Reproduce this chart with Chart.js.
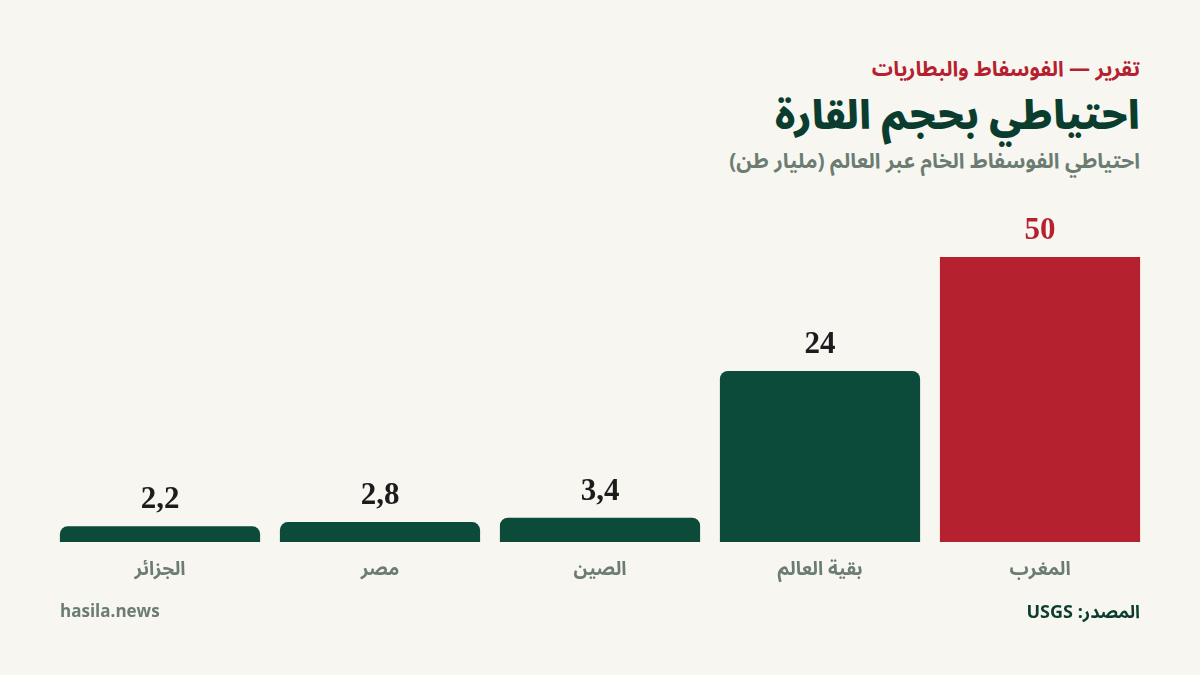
<!DOCTYPE html>
<html lang="ar" dir="rtl">
<head>
<meta charset="utf-8">
<script src="https://cdn.jsdelivr.net/npm/chart.js@4.4.1/dist/chart.umd.min.js"></script>
<style>
  html, body { margin: 0; padding: 0; }
  body {
    width: 1200px; height: 675px; overflow: hidden; position: relative;
    background: #f8f6f1;
    font-family: "Noto Sans Arabic", "DejaVu Sans", sans-serif;
  }
  .kicker, .title, .subtitle, .source, .brand { position: absolute; margin: 0; white-space: nowrap; }
  .kicker { right: 60px; top: 47px; font-size: 21px; font-weight: 700; color: #b5212e; }
  .title { right: 60px; top: 96px; font-size: 39px; font-weight: 900; color: #0b3d2e; line-height: 1.1; }
  .subtitle { right: 60px; top: 139px; font-size: 21px; font-weight: 700; color: #6b7d72; }
  .brand { left: 60px; top: 599px; font-size: 17px; font-weight: 700; color: #6b7d72; direction: ltr; font-family: "Open Sans", "DejaVu Sans", sans-serif; }
  .source { right: 60px; top: 593px; font-size: 18px; font-weight: 700; color: #0b3d2e; }
  .chart-box { position: absolute; left: 0; top: 200px; width: 1200px; height: 400px; }
</style>
</head>
<body>
<p class="kicker">تقرير — الفوسفاط والبطاريات</p>
<h1 class="title">احتياطي بحجم القارة</h1>
<p class="subtitle">احتياطي الفوسفاط الخام عبر العالم (مليار طن)</p>
<div class="chart-box"><canvas id="reserves"></canvas></div>
<p class="brand">hasila.news</p>
<p class="source">المصدر: USGS</p>

<script>
// data (billion tonnes), left to right as drawn
const countries = ['الجزائر', 'مصر', 'الصين', 'بقية العالم', 'المغرب'];
const reserves = [2.2, 2.8, 3.4, 24, 50];
const highlight = 'المغرب';

const GREEN = '#0c4a3a';
const RED = '#b5212e';

// value labels above each bar, comma decimals
const valueLabels = {
    id: 'valueLabels',
    afterDatasetsDraw(chart) {
        const ctx = chart.ctx;
        const meta = chart.getDatasetMeta(0);
        ctx.save();
        ctx.font = 'bold 31px "Liberation Serif", "DejaVu Serif", serif';
        ctx.textAlign = 'center';
        ctx.textBaseline = 'alphabetic';
        meta.data.forEach((bar, i) => {
            const top = Math.max(bar.y, chart.chartArea.top);
            ctx.fillStyle = countries[i] === highlight ? RED : '#1c1c1c';
            ctx.fillText(String(reserves[i]).replace('.', ','), bar.x, top - 18);
        });
        ctx.restore();
    }
};

new Chart(document.getElementById('reserves'), {
    type: 'bar',
    data: {
        labels: countries,
        datasets: [{
            data: reserves,
            backgroundColor: countries.map(c => c === highlight ? RED : GREEN),
            borderRadius: { topLeft: 8, topRight: 8 },
            borderSkipped: 'bottom',
            categoryPercentage: 1,
            barPercentage: 0.91
        }]
    },
    options: {
        responsive: true,
        maintainAspectRatio: false,
        animation: false,
        layout: { padding: { top: 57, left: 50, right: 50, bottom: 0 } },
        plugins: {
            legend: { display: false },
            tooltip: { enabled: false }
        },
        scales: {
            x: {
                grid: { display: false },
                border: { display: false },
                ticks: {
                    color: '#6b7d72',
                    padding: 11,
                    font: { size: 19, weight: 'bold', family: '"Noto Sans Arabic", "DejaVu Sans", sans-serif' }
                },
                afterFit(scale) { scale.height = 58; }
            },
            y: {
                display: false,
                min: 0,
                max: 40
            }
        }
    },
    plugins: [valueLabels]
});
</script>
</body>
</html>
